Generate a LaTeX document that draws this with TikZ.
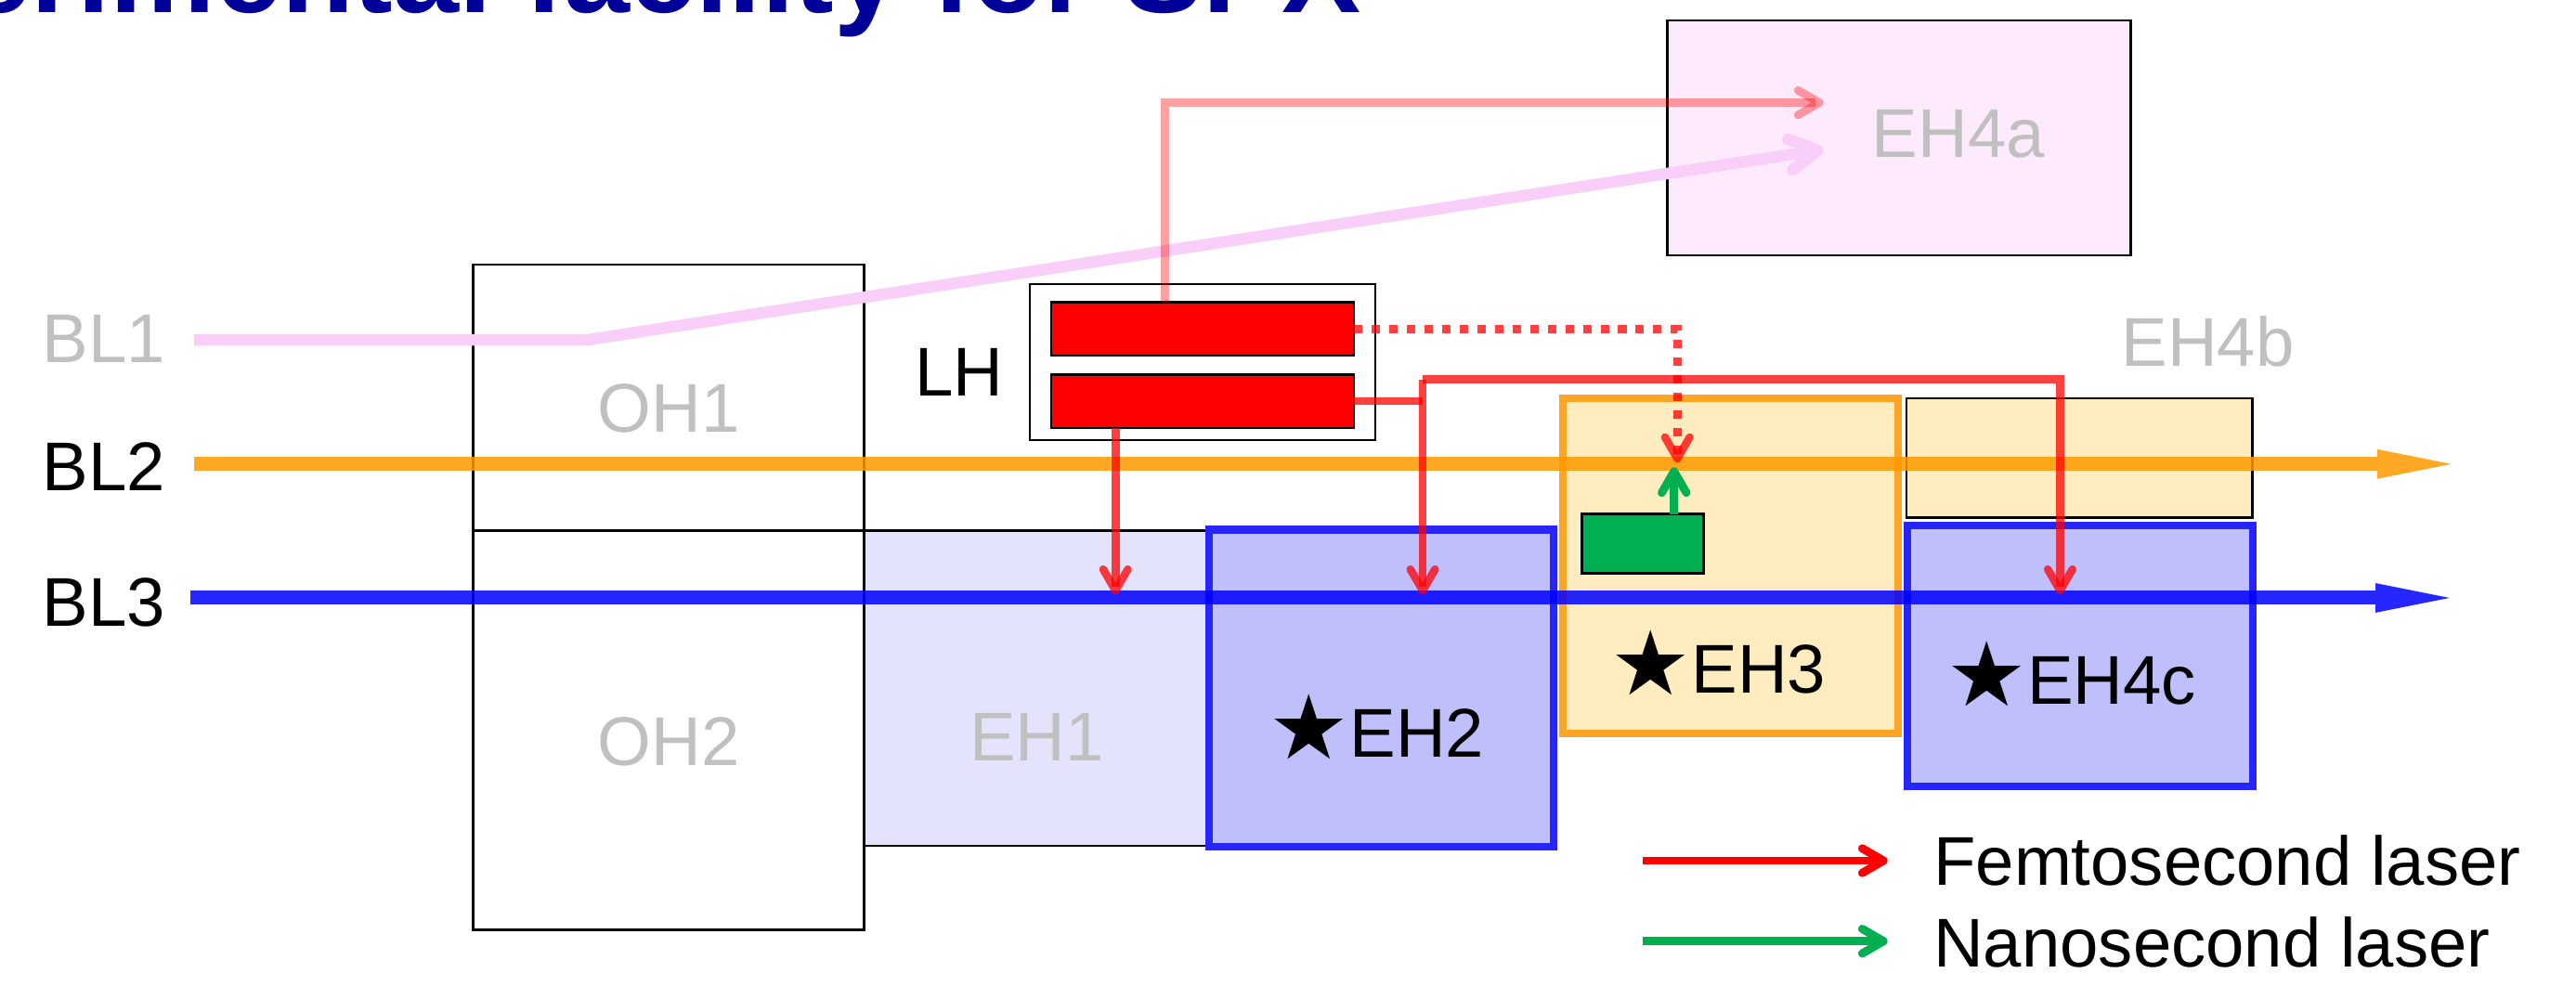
\documentclass[tikz,border=0pt]{standalone}
\usepackage{fontspec}
\setmainfont{Liberation Sans}
\newfontfamily\starfont{DejaVu Sans}
\usetikzlibrary{arrows.meta}
\definecolor{titleblue}{RGB}{0,0,153}
\definecolor{txtgray}{RGB}{192,192,192}
\definecolor{beamorange}{RGB}{255,153,0}
\definecolor{beamblue}{RGB}{0,0,255}
\definecolor{borderblue}{RGB}{38,38,252}
\definecolor{borderorange}{RGB}{255,165,38}
\definecolor{blpink}{RGB}{249,206,249}
\definecolor{fillblue}{RGB}{191,191,252}
\definecolor{fillpaleblue}{RGB}{227,227,253}
\definecolor{fillyellow}{RGB}{255,237,192}
\definecolor{fillpink}{RGB}{253,235,253}
\definecolor{lasergreen}{RGB}{0,176,80}
\tikzset{
  thinbox/.style={draw=black, line width=0.4pt, inner sep=0pt, outer sep=0pt},
  bluehall/.style={draw=borderblue, fill=fillblue, line width=1.31pt, inner sep=0pt, outer sep=0pt},
  orangehall/.style={draw=borderorange, fill=fillyellow, line width=1.31pt, inner sep=0pt, outer sep=0pt},
  lbl/.style={font=\fontsize{11.95}{14}\selectfont, inner sep=0pt, outer sep=0pt, anchor=base},
  graylbl/.style={lbl, text=txtgray},
  beamtip/.style={-{Triangle[length=4.5mm,width=1.8mm,line width=0pt]}},
  barbtip/.style={-{Straight Barb[length=1.3mm,width=1.5mm,round]}},
  bigbarbtip/.style={-{Straight Barb[length=1.7mm,width=1.9mm,round]}},
  beamline/.style={line width=2.42pt, opacity=0.85},
  laserline/.style={draw=red, opacity=0.75, line width=1.37pt},
}
\newcommand{\mystar}{{\starfont\fontsize{15.5}{16}\selectfont\raisebox{-0.3pt}{★}}}
\begin{document}
\begin{tikzpicture}[x=0.01cm, y=-0.01cm]
\useasboundingbox (0,0) rectangle (1568,600);
\clip (0,0) rectangle (1568,600);
\fill[white] (0,0) rectangle (1568,600);

% title (cut off at the top, as in the original slide)
\node[anchor=base east, inner sep=0pt, text=titleblue,
      font=\fontsize{20.5}{24}\selectfont\bfseries] (title) at (829,7.5) {Experimental facility for SPX};

% halls
\node[thinbox, minimum width=2.38cm, minimum height=1.62cm] (OH1) at (407,242) {};
\node[thinbox, minimum width=2.38cm, minimum height=2.43cm] (OH2) at (407,444.5) {};
\node[thinbox, fill=fillpaleblue, minimum width=2.10cm, minimum height=1.92cm] (EH1) at (631,419) {};
\node[bluehall, minimum width=2.095cm, minimum height=1.93cm] (EH2) at (840.75,419) {};
\node[orangehall, minimum width=2.04cm, minimum height=2.04cm] (EH3) at (1053.5,344.5) {};
\node[thinbox, fill=fillyellow, minimum width=2.105cm, minimum height=0.725cm] (EH4b) at (1265.75,278.75) {};
\node[bluehall, minimum width=2.10cm, minimum height=1.585cm] (EH4c) at (1266,399.25) {};
\node[thinbox, fill=fillpink, minimum width=2.82cm, minimum height=1.43cm] (EH4a) at (1156,84) {};
\node[thinbox, fill=white, minimum width=2.10cm, minimum height=0.95cm] (LH) at (732,220.5) {};
\node[thinbox, fill=red, minimum width=1.84cm, minimum height=0.325cm] (las1) at (732,200.25) {};
\node[thinbox, fill=red, minimum width=1.84cm, minimum height=0.325cm] (las2) at (732,244.25) {};
\node[thinbox, fill=lasergreen, minimum width=0.74cm, minimum height=0.36cm] (grn) at (1000,331) {};

% beam lines
\coordinate (bl1s) at (118,207);
\coordinate (bl1k) at (357,207);
\coordinate (bl1t) at (1110,91);
\coordinate (bl2s) at (118,282.5);
\coordinate (bl2t) at (1492,282.5);
\coordinate (bl3s) at (116,364);
\coordinate (bl3t) at (1491,364);
\draw[draw=blpink, line width=2pt, bigbarbtip, line join=round] (bl1s) -- (bl1k) -- (bl1t);
\draw[beamline, draw=beamorange, fill=beamorange, beamtip] (bl2s) -- (bl2t);
\draw[beamline, draw=beamblue, fill=beamblue, beamtip] (bl3s) -- (bl3t);

% lasers
\coordinate (pk) at (709,62.5);
\coordinate (pkt) at (1110,62.5);
\draw[draw=red, opacity=0.37, line width=1.42pt, barbtip] (las1.north -| pk) -- (pk) -- (pkt);

\coordinate (dk) at (1021,200.25);
\coordinate (dt) at (1021,281.6);
\draw[laserline, barbtip, dash pattern=on 1.45pt off 1.6pt] (las1.east) -- (dk) -- (dt);

\coordinate (a1t) at (679,362);
\draw[laserline, barbtip] (las2.south -| a1t) -- (a1t);
\coordinate (sk) at (866,244.25);
\draw[laserline] (las2.east) -- (sk);
\coordinate (hk) at (866,231);
\coordinate (a2t) at (866,362);
\draw[laserline, barbtip] (hk) -- (a2t);
\coordinate (hk2) at (1254,231);
\coordinate (a3t) at (1254,362);
\draw[laserline, barbtip] (hk) -- (hk2) -- (a3t);

\coordinate (gt) at (1019,284.5);
\draw[draw=lasergreen, line width=1.42pt, barbtip] (grn.north -| gt) -- (gt);

% labels
\node[graylbl, anchor=base west] (BL1) at (26,220.5) {BL1};
\node[lbl, anchor=base west] (BL2) at (26,298.5) {BL2};
\node[lbl, anchor=base west] (BL3) at (26,381.5) {BL3};
\node[graylbl] (tOH1) at (407,263) {OH1};
\node[graylbl] (tOH2) at (407,466) {OH2};
\node[graylbl] (tEH1) at (631,463) {EH1};
\node[lbl] (tEH2) at (838,461) {\mystar EH2};
\node[lbl] (tEH3) at (1046,422) {\mystar EH3};
\node[lbl] (tEH4c) at (1261,428.6) {\mystar EH4c};
\node[graylbl] (tEH4a) at (1192,96) {EH4a};
\node[graylbl] (tEH4b) at (1344,223) {EH4b};
\node[lbl] (tLH) at (584,241) {LH};

% legend
\coordinate (lg1s) at (1000,524);
\coordinate (lg1t) at (1149,524);
\coordinate (lg2s) at (1000,573);
\coordinate (lg2t) at (1149,573);
\draw[draw=red, line width=1.42pt, barbtip] (lg1s) -- (lg1t);
\draw[draw=lasergreen, line width=1.42pt, barbtip] (lg2s) -- (lg2t);
\node[lbl, anchor=base west] (lgf) at (1177,538.7) {Femtosecond laser};
\node[lbl, anchor=base west] (lgn) at (1177,588.6) {Nanosecond laser};
\end{tikzpicture}
\end{document}
